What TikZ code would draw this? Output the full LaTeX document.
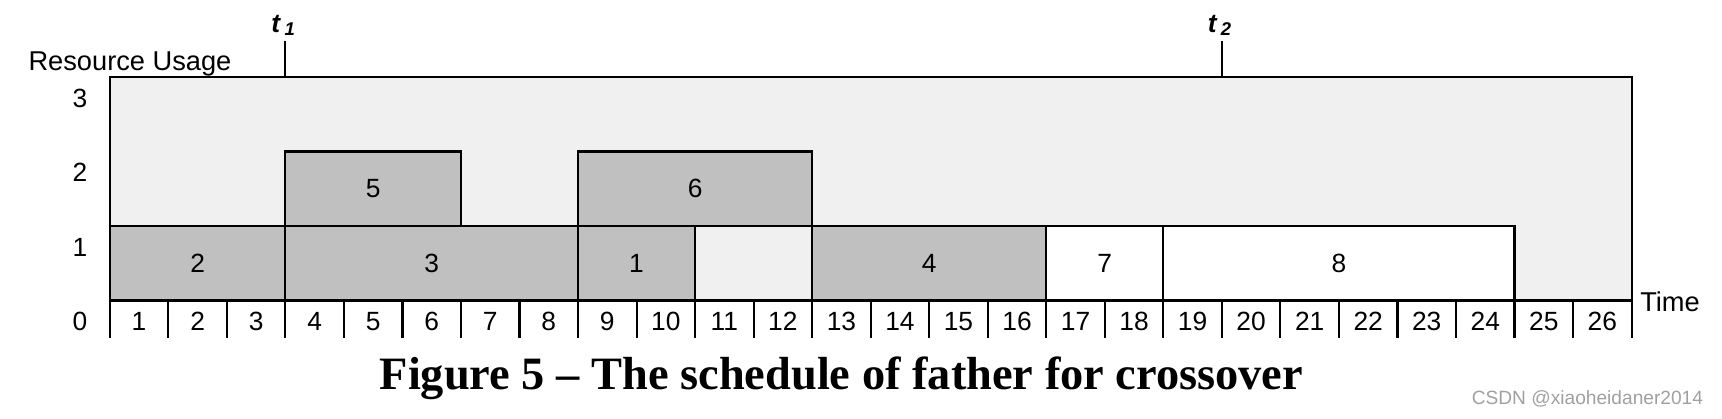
\documentclass[tikz,border=0pt]{standalone}
\usepackage{fontspec}
\setmainfont{Liberation Sans}
\newfontfamily\capfont{Liberation Serif}
\definecolor{jobgray}{RGB}{192,192,192}
\definecolor{idlegray}{RGB}{240,240,240}
\definecolor{markgray}{RGB}{160,160,160}

\begin{document}
\begin{tikzpicture}[x=1.1706cm,y=1.49cm,
  line width=1.2pt,
  job/.style={draw,fill=jobgray},
  newjob/.style={draw,fill=white},
  num/.style={font=\fontsize{15}{18}\selectfont,inner sep=0pt},
  axlabel/.style={font=\fontsize{15.5}{18}\selectfont,inner sep=0pt}
]
  \useasboundingbox (-1.876,-1.577) rectangle (27.545,4.034);
  % resource profile
  \draw[fill=idlegray] (0,0) rectangle (26,3);
  \draw[job] (0,0) rectangle node[num] (j2) {2} (3,1);
  \draw[job] (3,0) rectangle node[num] (j3) {3} (8,1);
  \draw[job] (3,1) rectangle node[num] (j5) {5} (6,2);
  \draw[job] (8,0) rectangle node[num] (j1) {1} (10,1);
  \draw[job] (8,1) rectangle node[num] (j6) {6} (12,2);
  \draw[job] (12,0) rectangle node[num] (j4) {4} (16,1);
  \draw[newjob] (16,0) rectangle node[num] (j7) {7} (18,1);
  \draw[newjob] (18,0) rectangle node[num] (j8) {8} (24,1);
  % time axis
  \draw (0,0) -- (26,0);
  \foreach \t in {0,...,26}
    \draw (\t,0) -- (\t,-0.5);
  \foreach \t in {1,...,26}
    \node[num] (time\t) at (\t-0.5,-0.28) {\t};
  \foreach \r in {0,...,3}
    \node[num] (lev\r) at (-0.509,\r-0.285) {\r};
  \node[axlabel,anchor=base] (usage) at (0.345,3.094) {Resource Usage};
  \node[axlabel,anchor=west] (time) at (26.13,-0.02) {Time};
  % cut points
  \coordinate (c1) at (3,3.487);
  \coordinate (c2) at (19,3.487);
  \draw (3,3) -- (c1);
  \draw (19,3) -- (c2);
  \node[anchor=base,inner sep=0pt,font=\fontsize{15}{17}\selectfont\bfseries\itshape] (t1) at (2.96,3.604) {t\,\raisebox{-0.25ex}{\fontsize{10.5}{12}\selectfont 1}};
  \node[anchor=base,inner sep=0pt,font=\fontsize{15}{17}\selectfont\bfseries\itshape] (t2) at (18.96,3.604) {t\,\raisebox{-0.25ex}{\fontsize{10.5}{12}\selectfont 2}};
  % caption
  \node[anchor=base,inner sep=0pt,font=\capfont\fontsize{26.4}{30}\selectfont\bfseries] (caption) at (12.5,-1.2) {Figure 5 – The schedule of father for crossover};
  \node[anchor=east,inner sep=0pt,text=markgray,font=\fontsize{10.9}{12}\selectfont] (mark) at (27.24,-1.32) {CSDN @xiaoheidaner2014};
\end{tikzpicture}
\end{document}
